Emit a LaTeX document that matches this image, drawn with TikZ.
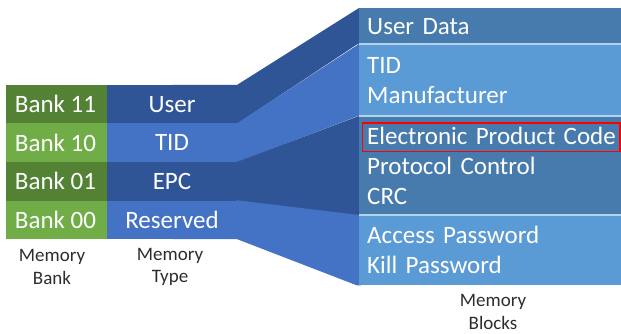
\documentclass[tikz,border=0pt]{standalone}
\usepackage{fontspec}
\setmainfont{Carlito}
\usetikzlibrary{positioning, calc, backgrounds}
\definecolor{bank_dark}{RGB}{84, 130, 53}
\definecolor{bank_light}{RGB}{112, 173, 71}
\definecolor{type_dark}{RGB}{47, 85, 151}
\definecolor{type_light}{RGB}{68, 114, 196}
\definecolor{block_dark}{RGB}{71, 122, 173}
\definecolor{block_light}{RGB}{91, 155, 213}
\definecolor{label_gray}{RGB}{45, 45, 45}
\def \cellfont {\fontsize{25}{30}\selectfont}
\def \capfont {\fontsize{19}{22.5}\selectfont}

\begin{document}
\begin{tikzpicture}[
    x=1pt, y=-1pt,
    bank/.style={
        rectangle,
        fill=#1,
        text=white,
        minimum width=102pt,
        minimum height=38.5pt,
        inner sep=0pt,
        font=\cellfont
    },
    mtype/.style={
        rectangle,
        fill=#1,
        text=white,
        minimum width=130pt,
        minimum height=38.5pt,
        inner sep=0pt,
        font=\cellfont
    },
    block/.style={
        rectangle,
        fill=#1,
        text=white,
        anchor=north west,
        minimum width=272pt,
        text width=256pt,
        inner xsep=8pt,
        inner ysep=0pt,
        align=left,
        font=\cellfont
    },
    caption/.style={
        align=center,
        text=label_gray,
        font=\capfont
    },
    sepline/.style={
        draw=white!55!block_light,
        line width=1.2pt
    }
]
\useasboundingbox (0,0) rectangle (621,334);

% Define column positions
\def\colA{57}     % memory bank column
\def\colB{172}    % memory type column
\def\colC{359}    % memory blocks column

% Memory bank cells
\node[bank=bank_dark] (bank11) at (\colA,104.25) {\hspace*{-3pt}Bank 11};
\node[bank=bank_light] (bank10) at (\colA,142.75) {\hspace*{-3pt}Bank 10};
\node[bank=bank_dark] (bank01) at (\colA,181.25) {\hspace*{-3pt}Bank 01};
\node[bank=bank_light] (bank00) at (\colA,219.75) {\hspace*{-3pt}Bank 00};

% Memory type cells
\node[mtype=type_dark] (user) at (\colB,104.25) {User};
\node[mtype=type_light] (tid) at (\colB,142.75) {TID};
\node[mtype=type_dark] (epc) at (\colB,181.25) {EPC};
\node[mtype=type_light] (rsv) at (\colB,219.75) {Reserved};

% Memory blocks on the right (they run past the right edge)
\node[block=block_dark, minimum height=36pt] (udata) at (\colC,8) {User Data};
\node[block=block_light, minimum height=72pt] (tidblk) at (\colC,44) {TID\\Manufacturer};
\node[block=block_dark, minimum height=99pt] (epcblk) at (\colC,116) {Electronic Product Code\\Protocol Control\\CRC};
\node[block=block_light, minimum height=70pt] (rsvblk) at (\colC,215) {Access Password\\Kill Password};

% Funnel bands from type cells to blocks
\begin{scope}[on background layer]
\foreach \t/\b/\c in {user/udata/type_dark, tid/tidblk/type_light, epc/epcblk/type_dark, rsv/rsvblk/type_light} {
    \fill[\c] (\t.north) -- (\t.north east) -- (\b.north west) -- ([xshift=2pt]\b.south west)
        -- ([xshift=-2pt]\b.south west) -- (\t.south east) -- (\t.south) -- cycle;
}
\end{scope}

% Thin separators between blocks
\draw[sepline] (tidblk.north west) -- (tidblk.north east);
\draw[sepline] (epcblk.north west) -- (epcblk.north east);
\draw[sepline] (rsvblk.north west) -- (rsvblk.north east);

% Highlight of the EPC line
\draw[red, line width=1.6pt] ($(epcblk.north west)+(3.5,7)$) rectangle ($(epcblk.north west)+(261,35.5)$);

% Column captions
\node[caption] (bankcap) at (52,267) {Memory\\Bank};
\node[caption] (typecap) at (170,267) {Memory\\Type};
\node[caption] (blockcap) at (493,312) {Memory\\Blocks};

\end{tikzpicture}
\end{document}
